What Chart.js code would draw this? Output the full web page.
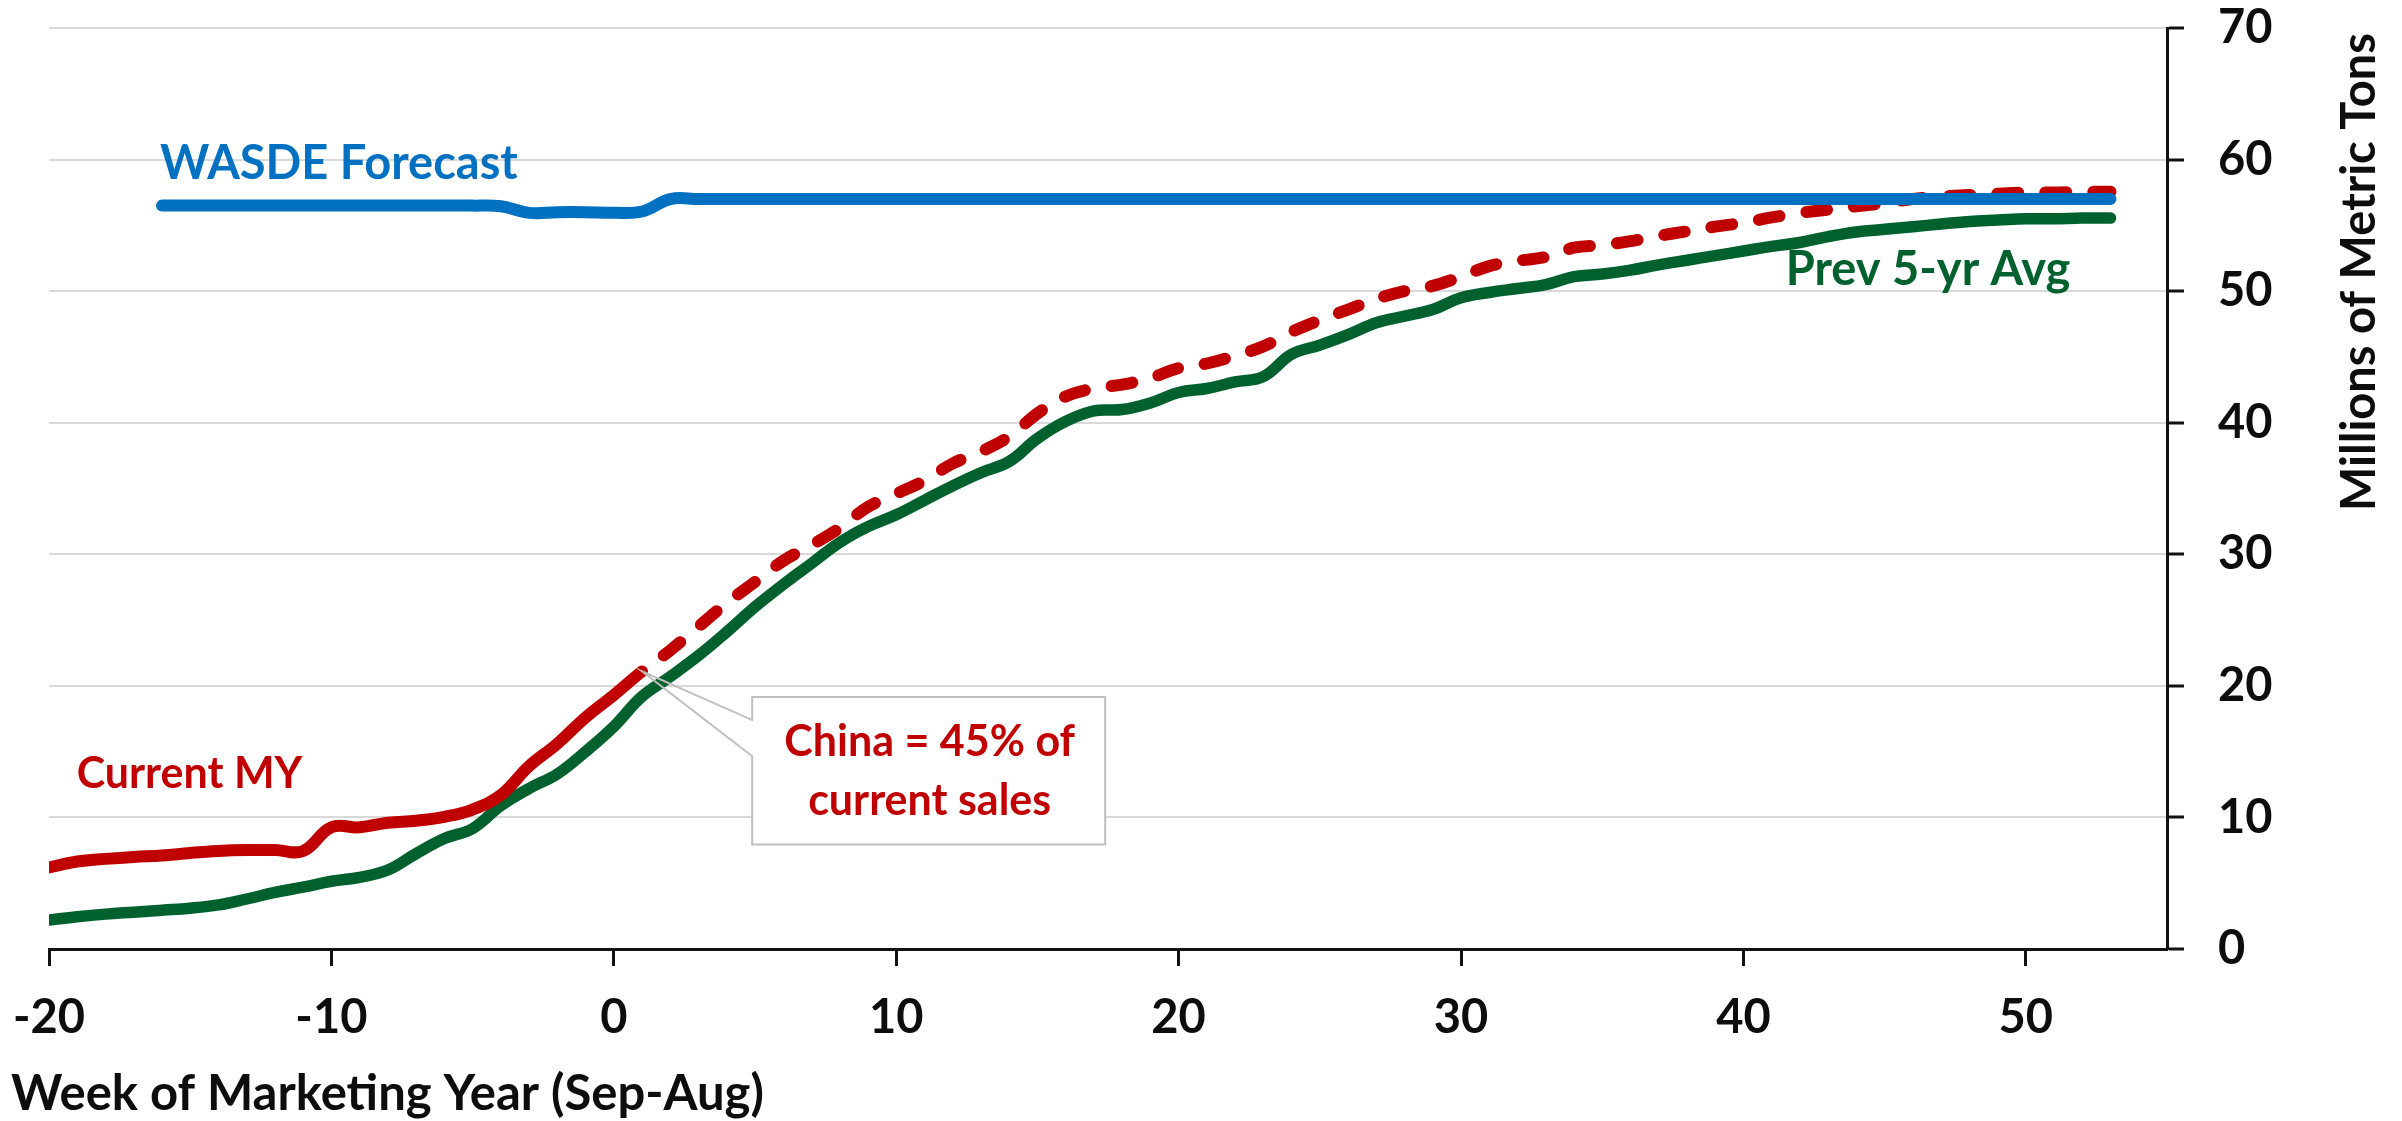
<!DOCTYPE html>
<html>
<head>
<meta charset="utf-8">
<title>Weekly export sales vs. previous 5-year average</title>
<script src="https://cdn.jsdelivr.net/npm/chart.js@4.4.1/dist/chart.umd.min.js"></script>
<style>
  html, body { margin: 0; padding: 0; background: #ffffff; }
  #wrap { width: 2402px; height: 1121px; position: relative; }
  canvas { display: block; }
</style>
</head>
<body>
<div id="wrap"><canvas id="chart" width="2402" height="1121"></canvas></div>
<script>
// Week of marketing year (Sep-Aug); negative weeks are sales booked before the year starts
const weeks = [
  -20, -19, -18, -17, -16, -15, -14, -13, -12, -11,
  -10,  -9,  -8,  -7,  -6,  -5,  -4,  -3,  -2,  -1,
    0,   1,   2,   3,   4,   5,   6,   7,   8,   9,
   10,  11,  12,  13,  14,  15,  16,  17,  18,  19,
   20,  21,  22,  23,  24,  25,  26,  27,  28,  29,
   30,  31,  32,  33,  34,  35,  36,  37,  38,  39,
   40,  41,  42,  43,  44,  45,  46,  47,  48,  49,
   50,  51,  52,  53
];

// Cumulative sales, current marketing year (reported through lastReportedWeek, projected after)
const currentMY = [
   6.2,  6.65, 6.85, 7.0,  7.1,  7.3,  7.45, 7.52, 7.52, 7.45,
   9.25, 9.25, 9.6,  9.75, 10.05, 10.6, 11.7, 13.9, 15.6, 17.6,
  19.3, 21.1, 22.7, 24.5, 26.3, 27.9, 29.5, 30.7, 32.0, 33.6,
  34.6, 35.6, 36.9, 37.8, 38.95, 40.7, 42.0, 42.6, 42.9, 43.4,
  44.15, 44.5, 45.1, 45.8, 46.9, 47.8, 48.6, 49.4, 50.0, 50.4,
  51.1, 51.9, 52.3, 52.6, 53.3, 53.5, 53.8, 54.2, 54.55, 54.9,
  55.2, 55.6, 55.95, 56.2, 56.45, 56.7, 57.0, 57.2, 57.3, 57.4,
  57.5, 57.5, 57.55, 57.55
];
const lastReportedWeek = 1;

// Cumulative sales, average of the previous five marketing years
const prevFiveYrAvg = [
   2.2,  2.45, 2.65, 2.8,  2.95, 3.1,  3.35, 3.8,  4.3,  4.7,
   5.15, 5.45, 6.0,  7.25, 8.4,  9.15, 10.9, 12.2, 13.3, 15.0,
  16.9, 19.2, 20.7, 22.3, 24.1, 26.0, 27.7, 29.3, 30.9, 32.1,
  33.0, 34.1, 35.2, 36.2, 37.05, 38.8, 40.1, 40.9, 41.0, 41.5,
  42.3, 42.6, 43.1, 43.5, 45.2, 45.9, 46.7, 47.6, 48.1, 48.6,
  49.5, 49.9, 50.2, 50.5, 51.1, 51.3, 51.6, 52.0, 52.35, 52.7,
  53.05, 53.4, 53.7, 54.15, 54.5, 54.7, 54.9, 55.1, 55.3, 55.4,
  55.5, 55.5, 55.55, 55.55
];

// WASDE export forecast for the marketing year (published from week -16)
const wasdeForecast = [
  null, null, null, null, 56.5, 56.5, 56.5, 56.5, 56.5, 56.5,
  56.5, 56.5, 56.5, 56.5, 56.5, 56.5, 56.45, 55.95, 56.0, 56.0,
  55.95, 56.05, 57.0, 57.0, 57.0, 57.0, 57.0, 57.0, 57.0, 57.0,
  57.0, 57.0, 57.0, 57.0, 57.0, 57.0, 57.0, 57.0, 57.0, 57.0,
  57.0, 57.0, 57.0, 57.0, 57.0, 57.0, 57.0, 57.0, 57.0, 57.0,
  57.0, 57.0, 57.0, 57.0, 57.0, 57.0, 57.0, 57.0, 57.0, 57.0,
  57.0, 57.0, 57.0, 57.0, 57.0, 57.0, 57.0, 57.0, 57.0, 57.0,
  57.0, 57.0, 57.0, 57.0
];

const xTickValues = [-20, -10, 0, 10, 20, 30, 40, 50];
const yTickValues = [0, 10, 20, 30, 40, 50, 60, 70];

const xAxisTitle = 'Week of Marketing Year (Sep-Aug)';
const yAxisTitle = 'Millions of Metric Tons';
const calloutLines = ['China = 45% of', 'current sales'];

// ---- styling ----
const FONT = 'Lato, "Open Sans", "Noto Sans", sans-serif';
const BLUE = '#0070C0';
const RED = '#C00000';
const GREEN = '#00612E';
const AXIS = '#111111';
const TEXT = '#0d0d0d';

function toPoints(values) {
  return weeks.map((w, i) => ({ x: w, y: values[i] }));
}

function fillText(ctx, text, x, y, size, color, align) {
  ctx.save();
  ctx.font = 'bold ' + size + 'px ' + FONT;
  ctx.fillStyle = color;
  ctx.textAlign = align || 'left';
  ctx.textBaseline = 'alphabetic';
  ctx.fillText(text, x, y);
  ctx.restore();
}

// Series labels, placed in data coordinates (left edge, text baseline)
const seriesLabels = [
  { text: 'WASDE Forecast', week: -16.07, value: 58.5, color: BLUE, size: 47 },
  { text: 'Current MY', week: -19.02, value: 12.2, color: RED, size: 43 },
  { text: 'Prev 5-yr Avg', week: 41.5, value: 50.5, color: GREEN, size: 47 }
];

// Callout box around the latest reported week
const callout = { left: 4.9, right: 17.4, top: 19.15, bottom: 7.95, wedgeTop: 17.4, wedgeBottom: 14.65 };

const annotationPlugin = {
  id: 'chartAnnotations',
  afterDatasetsDraw(chart) {
    const { ctx, scales: { x, y } } = chart;
    const idx = weeks.indexOf(lastReportedWeek);
    const tipX = x.getPixelForValue(lastReportedWeek);
    const tipY = y.getPixelForValue(currentMY[idx]);
    const l = x.getPixelForValue(callout.left);
    const r = x.getPixelForValue(callout.right);
    const t = y.getPixelForValue(callout.top);
    const b = y.getPixelForValue(callout.bottom);
    const wt = y.getPixelForValue(callout.wedgeTop);
    const wb = y.getPixelForValue(callout.wedgeBottom);

    ctx.save();
    ctx.fillStyle = '#ffffff';
    ctx.fillRect(l, t, r - l, b - t);
    ctx.beginPath();
    ctx.moveTo(l, t);
    ctx.lineTo(r, t);
    ctx.lineTo(r, b);
    ctx.lineTo(l, b);
    ctx.lineTo(l, wb);
    ctx.lineTo(tipX, tipY);
    ctx.lineTo(l, wt);
    ctx.closePath();
    ctx.strokeStyle = '#bfbfbf';
    ctx.lineWidth = 2;
    ctx.lineJoin = 'miter';
    ctx.stroke();
    ctx.restore();

    const cx = (l + r) / 2;
    calloutLines.forEach((line, i) => {
      fillText(ctx, line, cx + 1, t + 59 + i * 59, 43, RED, 'center');
    });
  },
  afterDraw(chart) {
    const { ctx, scales: { x, y } } = chart;
    seriesLabels.forEach(lb => {
      fillText(ctx, lb.text, x.getPixelForValue(lb.week), y.getPixelForValue(lb.value), lb.size, lb.color, 'left');
    });

    // x-axis title, flush with the left edge of the figure
    fillText(ctx, xAxisTitle, 11, 1110, 49, TEXT, 'left');

    // y-axis title on the right, reading bottom to top
    ctx.save();
    ctx.translate(2375, 511);
    ctx.rotate(-Math.PI / 2);
    fillText(ctx, yAxisTitle, 0, 0, 47, TEXT, 'left');
    ctx.restore();
  }
};

const tickFont = { family: FONT, size: 47, weight: 'bold', lineHeight: 1 };

new Chart(document.getElementById('chart').getContext('2d'), {
  type: 'line',
  data: {
    datasets: [
      {
        label: 'WASDE Forecast',
        data: toPoints(wasdeForecast),
        borderColor: BLUE,
        borderWidth: 12,
        spanGaps: false
      },
      {
        label: 'Current MY',
        data: toPoints(currentMY),
        borderColor: RED,
        borderWidth: 12,
        clip: 0,
        segment: {
          borderDash: c => (c.p0.parsed.x >= lastReportedWeek ? [21, 27] : undefined),
          borderDashOffset: c => (c.p0.parsed.x >= lastReportedWeek ? 21 : 0)
        }
      },
      {
        label: 'Prev 5-yr Avg',
        data: toPoints(prevFiveYrAvg),
        borderColor: GREEN,
        borderWidth: 11.5,
        clip: 0
      }
    ]
  },
  options: {
    responsive: false,
    animation: false,
    devicePixelRatio: 1,
    layout: { padding: { top: 28, left: 49, right: 0, bottom: 0 } },
    plugins: {
      legend: { display: false },
      tooltip: { enabled: false }
    },
    elements: {
      point: { radius: 0, hoverRadius: 0 },
      line: { tension: 0.4, borderCapStyle: 'round', borderJoinStyle: 'round', fill: false }
    },
    scales: {
      x: {
        type: 'linear',
        position: 'bottom',
        min: -20,
        max: 55,
        afterBuildTicks: s => { s.ticks = xTickValues.map(v => ({ value: v })); },
        afterFit: s => {
          s.height = 172;
          s.paddingLeft = 0;
          s.paddingRight = 0;
        },
        grid: {
          drawOnChartArea: false,
          drawTicks: true,
          tickLength: 17,
          tickColor: AXIS,
          tickWidth: 3
        },
        border: { display: true, color: AXIS, width: 3 },
        ticks: {
          font: tickFont,
          color: TEXT,
          padding: 28,
          maxRotation: 0,
          autoSkip: false
        }
      },
      y: {
        position: 'right',
        min: 0,
        max: 70,
        afterBuildTicks: s => { s.ticks = yTickValues.map(v => ({ value: v })); },
        afterFit: s => {
          s.width = 235;
          s.paddingTop = 0;
          s.paddingBottom = 0;
        },
        grid: {
          color: c => (c.tick && c.tick.value === 0 ? 'rgba(0,0,0,0)' : '#d9d9d9'),
          lineWidth: 2,
          drawTicks: true,
          tickLength: 17,
          tickColor: AXIS,
          tickWidth: 3
        },
        border: { display: true, color: AXIS, width: 3 },
        ticks: {
          font: tickFont,
          color: TEXT,
          padding: 34,
          autoSkip: false
        }
      }
    }
  },
  plugins: [annotationPlugin]
});
</script>
</body>
</html>
